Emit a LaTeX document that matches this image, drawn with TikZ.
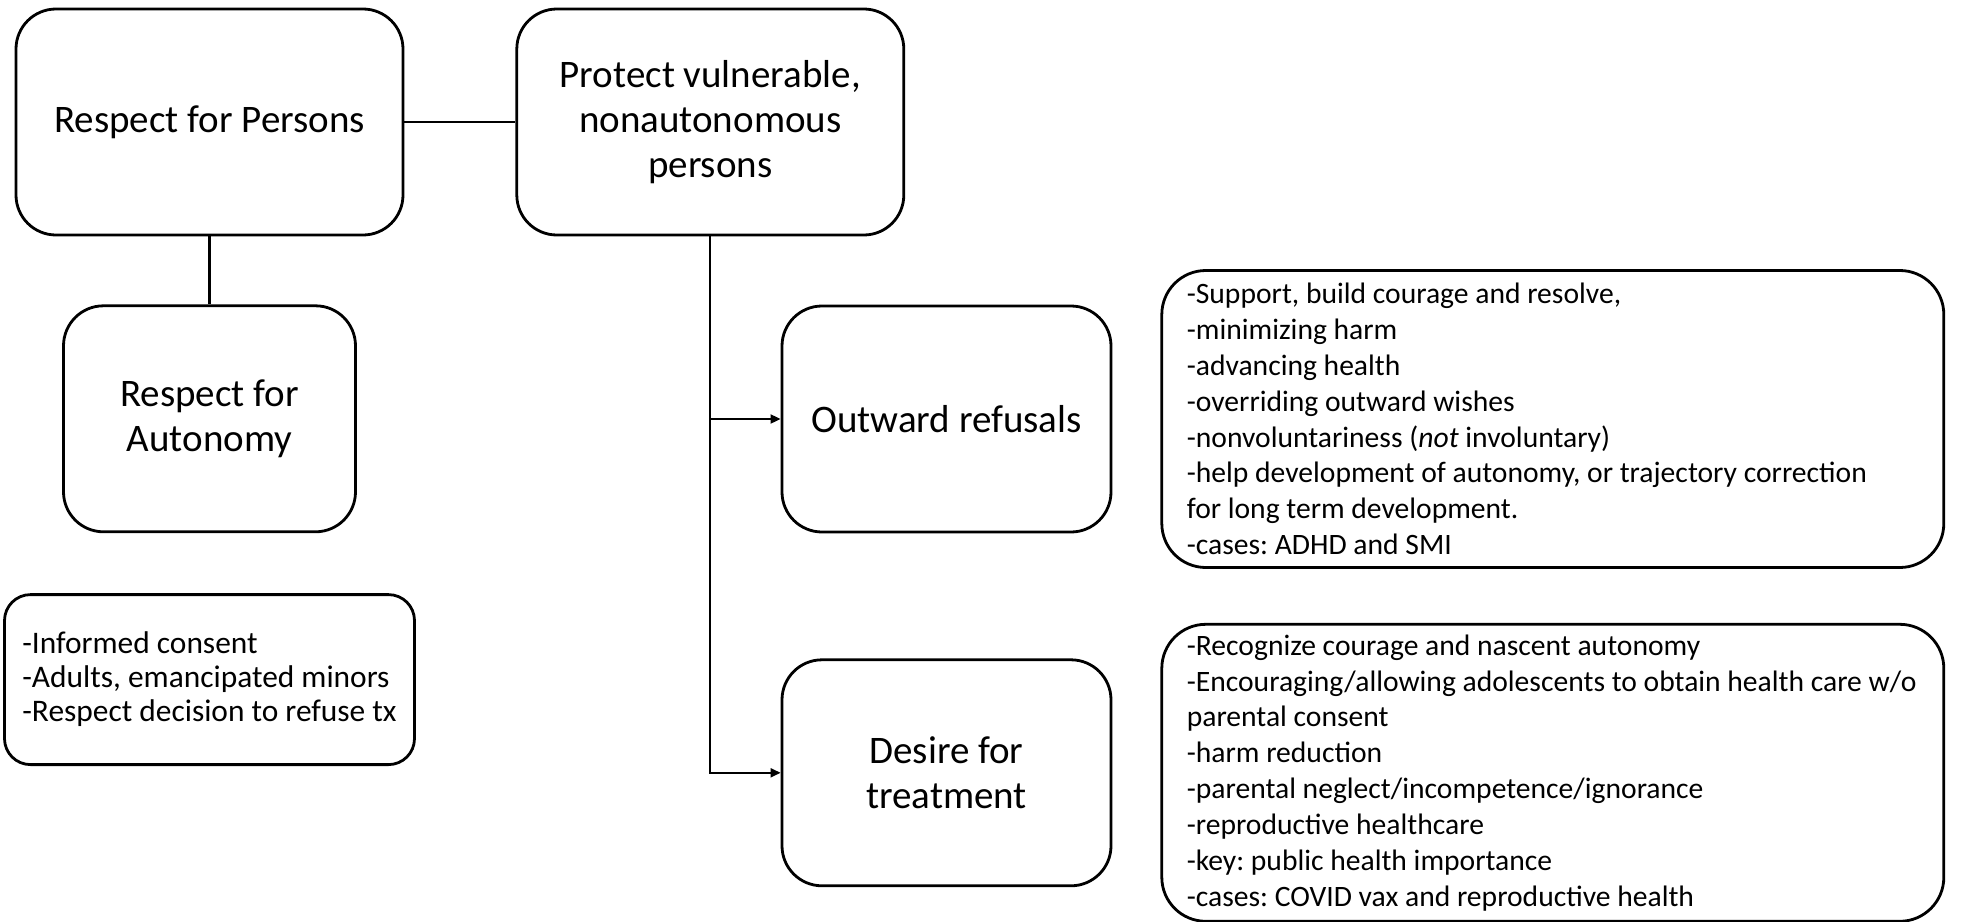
\documentclass[tikz,border=0pt]{standalone}
\usepackage{fontspec}
\setmainfont{Carlito}
\usepackage{tikz}
\usetikzlibrary{arrows.meta, positioning}
\frenchspacing

\begin{document}
\begin{tikzpicture}[
  x=0.5pt, y=-0.5pt,
  block/.style={rectangle, draw=black, line width=1.4pt, rounded corners=20pt, minimum width=193.5pt, minimum height=113pt, align=flush center, font=\fontsize{19.5}{22.5}\selectfont},
  branch/.style={block, minimum width=164.5pt},
  notes/.style={rectangle, draw=black, line width=1.4pt, rounded corners=22pt, minimum width=391pt, minimum height=148.5pt, text width=366pt, align=flush left, font=\fontsize{14.8}{17.9}\selectfont},
  smallnotes/.style={rectangle, draw=black, line width=1.4pt, rounded corners=13pt, minimum width=205pt, minimum height=85pt, align=flush left, font=\fontsize{15.7}{17}\selectfont},
  link/.style={line width=1.3pt},
  arr/.style={-{Triangle[length=5pt, width=4.5pt]}, line width=0.9pt},
]
\useasboundingbox (0,0) rectangle (1981,921);

% Top row
\node[block] (persons) at (209.5,122) {Respect for Persons};
\node[block, right=55.5pt of persons] (protect) {Protect vulnerable,\\nonautonomous\\persons};

% Autonomy side
\node[block, minimum width=146pt, below=34pt of persons] (autonomy) {Respect for\\Autonomy};
\node[smallnotes, below=30pt of autonomy] (informed) {-Informed consent\\-Adults, emancipated minors\\-Respect decision to refuse tx};

% Protection side
\node[branch] (refusals) at (946.5,419) {Outward refusals};
\node[branch, below=62.5pt of refusals] (desire) {Desire for\\treatment};
\node[notes, right=24pt of refusals] (refusalnotes) {-Support, build courage and resolve,\\-minimizing harm\\-advancing health\\-overriding outward wishes\\-nonvoluntariness (\textit{not} involuntary)\\-help development of autonomy, or trajectory correction\\for long term development.\\-cases: ADHD and SMI};
\node[notes, right=24pt of desire] (desirenotes) {-Recognize courage and nascent autonomy\\-Encouraging/allowing adolescents to obtain health care w/o\\parental consent\\-harm reduction\\-parental neglect/incompetence/ignorance\\-reproductive healthcare\\-key: public health importance\\-cases: COVID vax and reproductive health};

% Connectors
\draw[link] (persons) -- (protect);
\draw[link] (persons) -- (autonomy);
\draw[arr] (protect.south) |- (desire.west);
\draw[arr] (protect.south |- refusals.west) -- (refusals.west);

\end{tikzpicture}
\end{document}
